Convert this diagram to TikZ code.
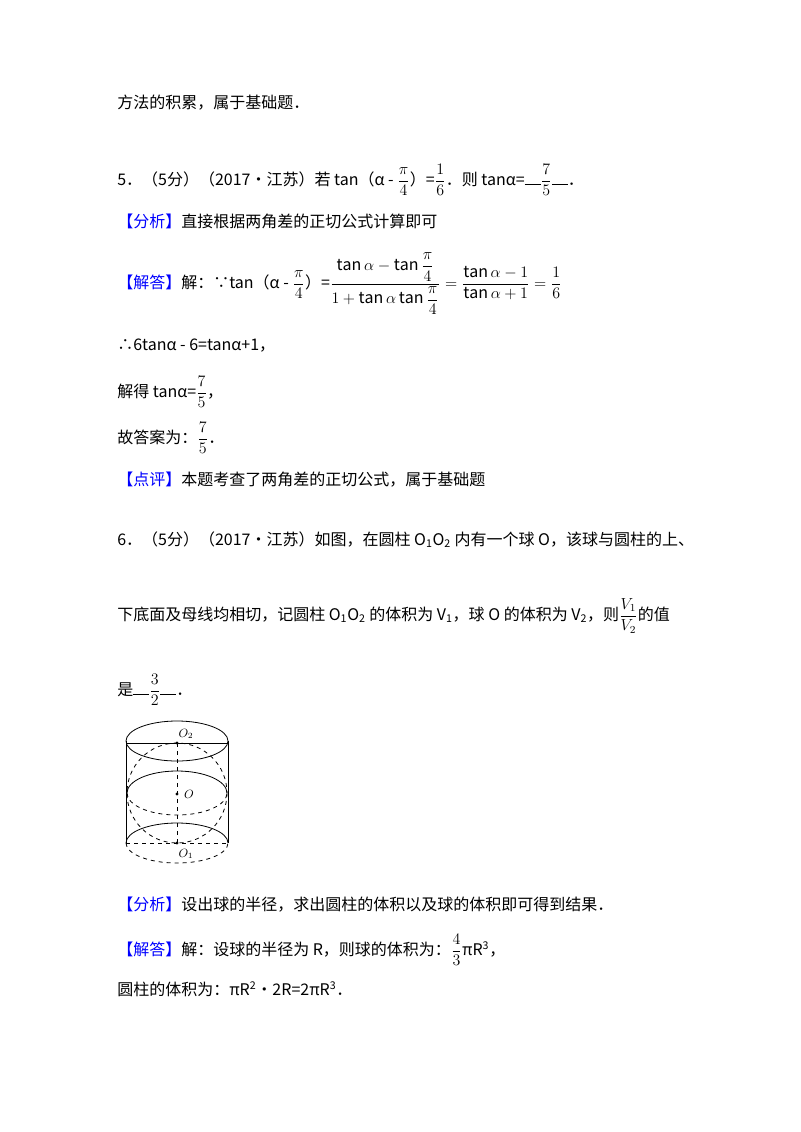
\documentclass[tikz,border=0pt]{standalone}
\usepackage{amsmath}
\usepackage{fontspec}
\setmainfont{Noto Sans CJK SC}
\begin{document}
\begin{tikzpicture}[x=0.75pt,y=-0.75pt,
  t/.style={anchor=base west,inner sep=0pt,font=\fontsize{12pt}{14pt}\selectfont}]
\useasboundingbox (0,0) rectangle (800,1132);
\newcommand\blank[1]{\rule{12pt}{0.5pt}#1\rule{12pt}{0.5pt}}
\node[t] (l1) at (117,108) {方法的积累，属于基础题．};
\node[t] (l2) at (117,185) {5．（5分）（2017•江苏）若 tan（α - $\dfrac{\pi}{4}$）=$\dfrac{1}{6}$．则 tanα=\blank{$\dfrac{7}{5}$}．};
\node[t] (l3) at (117,227) {\textcolor{blue}{【分析】}直接根据两角差的正切公式计算即可};
\node[t] (l4) at (117,288) {\textcolor{blue}{【解答】}解：∵tan（α - $\dfrac{\pi}{4}$）=$\dfrac{\tan\alpha-\tan\dfrac{\pi}{4}}{1+\tan\alpha\tan\dfrac{\pi}{4}}=\dfrac{\tan\alpha-1}{\tan\alpha+1}=\dfrac{1}{6}$};
\node[t] (l5) at (117,350) {∴6tanα - 6=tanα+1，};
\node[t] (l6) at (117,397) {解得 tanα=$\dfrac{7}{5}$，};
\node[t] (l7) at (117,443) {故答案为：$\dfrac{7}{5}$．};
\node[t] (l8) at (117,485) {\textcolor{blue}{【点评】}本题考查了两角差的正切公式，属于基础题};
\node[t] (l9) at (117,545) {6．（5分）（2017•江苏）如图，在圆柱 O\textsubscript{1}O\textsubscript{2} 内有一个球 O，该球与圆柱的上、};
\node[t] (l10) at (117,620) {下底面及母线均相切，记圆柱 O\textsubscript{1}O\textsubscript{2} 的体积为 V\textsubscript{1}，球 O 的体积为 V\textsubscript{2}，则$\dfrac{V_1}{V_2}$的值};
\node[t] (l11) at (117,695) {是\blank{$\dfrac{3}{2}$}．};
\node[t] (l12) at (117,910) {\textcolor{blue}{【分析】}设出球的半径，求出圆柱的体积以及球的体积即可得到结果．};
\node[t] (l13) at (117,955) {\textcolor{blue}{【解答】}解：设球的半径为 R，则球的体积为：$\dfrac{4}{3}$πR\textsuperscript{3}，};
\node[t] (l14) at (117,995) {圆柱的体积为：πR\textsuperscript{2}•2R=2πR\textsuperscript{3}．};
% figure
\begin{scope}[line width=0.6pt]
\draw (177,741) ellipse [x radius=51,y radius=20];
\draw (126,743) -- (228,743);
\draw (126,741) -- (126,843);
\draw (228,741) -- (228,843);
\draw (126,843) arc[start angle=180,end angle=360,x radius=51,y radius=20];
\draw[dashed] (126,843) arc[start angle=180,end angle=0,x radius=51,y radius=20];
\draw[dashed] (126,843) -- (228,843);
\draw[dashed] (177,793) circle[radius=50];
\draw (127,793) arc[start angle=180,end angle=360,x radius=50,y radius=22];
\draw[dashed] (127,793) arc[start angle=180,end angle=0,x radius=50,y radius=22];
\draw[dashed] (177,743) -- (177,843);
\fill (177,743) circle[radius=1.6];
\fill (177,794) circle[radius=1.6];
\fill (177,843) circle[radius=1.6];
\end{scope}
\node[font=\fontsize{9pt}{10pt}\selectfont,inner sep=0pt] (o2) at (186,734) {$O_2$};
\node[font=\fontsize{9pt}{10pt}\selectfont,inner sep=0pt] (o) at (189,794) {$O$};
\node[font=\fontsize{9pt}{10pt}\selectfont,inner sep=0pt] (o1) at (186,854) {$O_1$};
\end{tikzpicture}
\end{document}
